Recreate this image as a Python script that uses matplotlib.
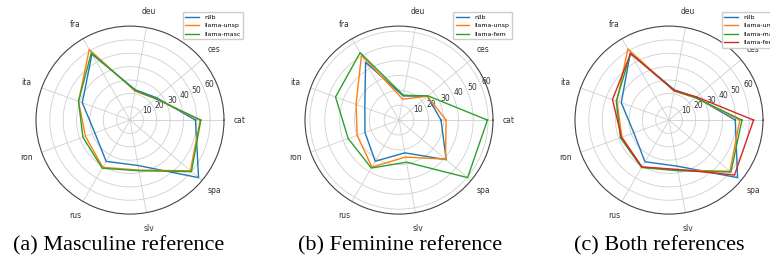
import numpy as np
import matplotlib
matplotlib.use("Agg")
import matplotlib.pyplot as plt

categories = ['cat', 'ces', 'deu', 'fra', 'ita', 'ron', 'rus', 'slv', 'spa']
rticks = [10, 20, 30, 40, 50, 60]

# (a) Masculine reference
nllb_a = [49, 26, 23, 57, 38, 28, 35.7, 34.5, 67]
unsp_a = [52.5, 25, 22, 61, 41, 35.5, 40.8, 38, 59]
masc_a = [53, 25, 22.5, 58, 41, 37.5, 41.6, 38.5, 60]

# (b) Feminine reference
nllb_b = [28.3, 25, 16.5, 45, 24.5, 24.4, 32, 22.4, 41.5]
unsp_b = [31.7, 25, 14.3, 50.5, 30.8, 30, 36.5, 25.3, 41]
fem_b = [59.6, 25.4, 17, 52.4, 45.5, 36.4, 37.3, 28.8, 60.3]

# (c) Both references
nllb_c = [49.6, 26.5, 23, 58, 38, 28, 36, 35, 67]
unsp_c = [53, 26, 22, 61.5, 41.5, 37.5, 40.5, 38, 59.5]
masc_c = [54.6, 26, 22.5, 57.5, 42, 38.7, 41, 38.5, 60.5]
fem_c = [63.3, 27, 22.5, 57.5, 45, 37.8, 40.5, 37.5, 64]

panels = [
    ([('nllb', nllb_a, 'tab:blue'), ('llama-unsp', unsp_a, 'tab:orange'),
      ('llama-masc', masc_a, 'tab:green')], '(a) Masculine reference'),
    ([('nllb', nllb_b, 'tab:blue'), ('llama-unsp', unsp_b, 'tab:orange'),
      ('llama-fem', fem_b, 'tab:green')], '(b) Feminine reference'),
    ([('nllb', nllb_c, 'tab:blue'), ('llama-unsp', unsp_c, 'tab:orange'),
      ('llama-masc', masc_c, 'tab:green'), ('llama-fem', fem_c, 'tab:red')],
     '(c) Both references'),
]

fig = plt.figure(figsize=(7.7, 2.71), dpi=100)
lefts = [36 / 770, 305 / 770, 575 / 770]
caption_x = [119 / 770, 400 / 770, 659 / 770]
angles = np.linspace(0, 2 * np.pi, len(categories), endpoint=False)
closed = np.concatenate([angles, angles[:1]])

for (series, caption), left, cx in zip(panels, lefts, caption_x):
    ax = fig.add_axes([left, 0.21, 188 / 770, 188 / 271], projection='polar')
    vmax = 0
    for name, vals, color in series:
        v = np.concatenate([vals, vals[:1]])
        ax.plot(closed, v, color=color, lw=1.0, label=name)
        vmax = max(vmax, max(vals))
    ax.set_ylim(0, vmax * 1.05)
    ax.set_yticks(rticks)
    ax.set_yticklabels([str(t) for t in rticks], fontsize=5.5, color='#333333')
    ax.set_rlabel_position(22.5)
    ax.set_xticks(angles)
    ax.set_xticklabels(categories, fontsize=5.5, color='#333333')
    ax.tick_params(axis='x', pad=1)
    ax.grid(color='#d0d0d0', lw=0.6)
    ax.spines['polar'].set_color('#444444')
    ax.spines['polar'].set_linewidth(0.8)
    ax.legend(loc='upper right', bbox_to_anchor=(1.10, 1.075), borderaxespad=0,
              fontsize=4.5, handlelength=2.2, framealpha=1.0)
    fig.text(cx, 0.092, caption, ha='center', va='center',
             family='Liberation Serif', fontsize=16)

fig.savefig('out.png', dpi=100)
